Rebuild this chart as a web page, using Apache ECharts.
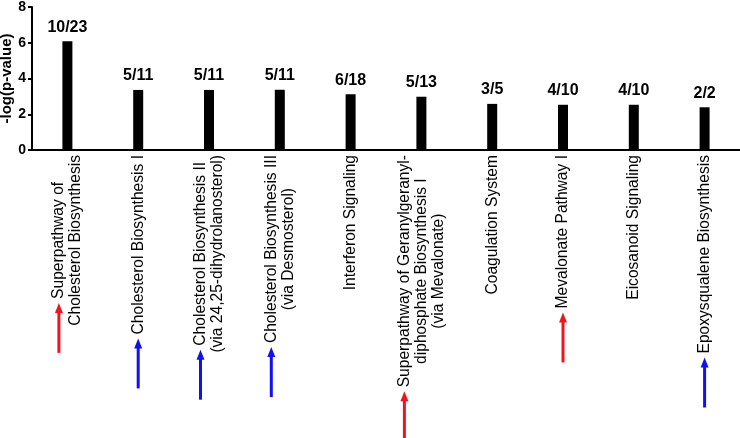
<!DOCTYPE html>
<html>
<head>
<meta charset="utf-8">
<script src="https://cdn.jsdelivr.net/npm/echarts@6/dist/echarts.min.js"></script>
<style>
  html, body { margin: 0; padding: 0; background: #fff; }
  #chart { width: 740px; height: 438px; }
</style>
</head>
<body>
<div id="chart"></div>
<script>
const pathways = [
  'Superpathway of\nCholesterol Biosynthesis',
  'Cholesterol Biosynthesis I',
  'Cholesterol Biosynthesis II\n(via 24,25-dihydrolanosterol)',
  'Cholesterol Biosynthesis III\n(via Desmosterol)',
  'Interferon Signaling',
  'Superpathway of Geranylgeranyl-\ndiphosphate Biosynthesis I\n(via Mevalonate)',
  'Coagulation System',
  'Mevalonate Pathway I',
  'Eicosanoid Signaling',
  'Epoxysqualene Biosynthesis'
];
const logP = [6.08, 3.36, 3.36, 3.37, 3.12, 2.98, 2.58, 2.53, 2.53, 2.39];
const ratios = ['10/23', '5/11', '5/11', '5/11', '6/18', '5/13', '3/5', '4/10', '4/10', '2/2'];
// arrow colour under each label (null = no arrow)
const arrowColors = ['#f0141e', '#1010f0', '#1010f0', '#1010f0', null, '#f0141e', null, '#f0141e', null, '#1010f0'];

const FONT_FAMILY = '"Liberation Sans", Arial, sans-serif';
const LABEL_SIZE = 15.6;
const LINE_H = 17;
const LABEL_MARGIN = 5;
const ARROW_LEN = 50;

// measure label lines so the arrows sit just past the text
const measureCtx = document.createElement('canvas').getContext('2d');
measureCtx.font = LABEL_SIZE + 'px ' + FONT_FAMILY;
function lineWidths(label) {
  return label.split('\n').map(s => measureCtx.measureText(s).width);
}

const arrowData = [];
arrowColors.forEach((c, i) => { if (c) arrowData.push([i, 0]); });

const chart = echarts.init(document.getElementById('chart'));
chart.setOption({
  animation: false,
  grid: { left: 32, right: 0, top: 7, bottom: 288, outerBoundsMode: 'none', containLabel: false },
  xAxis: {
    type: 'category',
    data: pathways,
    axisLine: { lineStyle: { color: '#000', width: 2 } },
    axisTick: { alignWithLabel: true, length: 3, lineStyle: { color: '#000', width: 2 } },
    axisLabel: {
      interval: 0,
      rotate: 90,
      margin: LABEL_MARGIN,
      formatter: v => v.split('\n').map(s => '{c|' + s + '}').join('\n'),
      rich: {
        c: { align: 'center', fontSize: LABEL_SIZE, lineHeight: LINE_H, fontFamily: FONT_FAMILY, color: '#000' }
      }
    }
  },
  yAxis: {
    type: 'value',
    min: 0,
    max: 8,
    interval: 2,
    name: '-log(p-value)',
    nameLocation: 'middle',
    nameRotate: 90,
    nameGap: 18,
    nameMoveOverlap: false,
    nameTextStyle: { fontSize: 15, fontWeight: 'bold', fontFamily: FONT_FAMILY, color: '#000' },
    axisLine: { show: true, lineStyle: { color: '#000', width: 2 } },
    axisTick: { show: true, length: 4, lineStyle: { color: '#000', width: 2 } },
    axisLabel: { fontSize: 14, fontWeight: 'bold', fontFamily: FONT_FAMILY, color: '#000', margin: 6 },
    splitLine: { show: false }
  },
  series: [
    {
      type: 'bar',
      data: logP,
      barWidth: 10,
      itemStyle: { color: '#000' },
      label: {
        show: true,
        position: 'top',
        distance: 6,
        formatter: p => ratios[p.dataIndex],
        fontSize: 16,
        fontWeight: 'bold',
        fontFamily: FONT_FAMILY,
        color: '#000'
      }
    },
    {
      type: 'custom',
      clip: false,
      silent: true,
      data: arrowData,
      encode: { x: 0, y: 1 },
      renderItem: (params, api) => {
        const i = api.value(0);
        const base = api.coord([i, 0]);
        const widths = lineWidths(pathways[i]);
        const n = widths.length;
        const x = base[0] - (n - 1) / 2 * LINE_H;
        const full = Math.max.apply(null, widths);
        const tip = base[1] + LABEL_MARGIN + (full + widths[0]) / 2 + 4;
        const color = arrowColors[i];
        return {
          type: 'group',
          children: [
            { type: 'line', shape: { x1: x, y1: tip + 7, x2: x, y2: tip + ARROW_LEN }, style: { stroke: color, lineWidth: 3 } },
            { type: 'polygon', shape: { points: [[x, tip], [x - 4, tip + 10], [x + 4, tip + 10]] }, style: { fill: color } }
          ]
        };
      }
    }
  ]
});
</script>
</body>
</html>
